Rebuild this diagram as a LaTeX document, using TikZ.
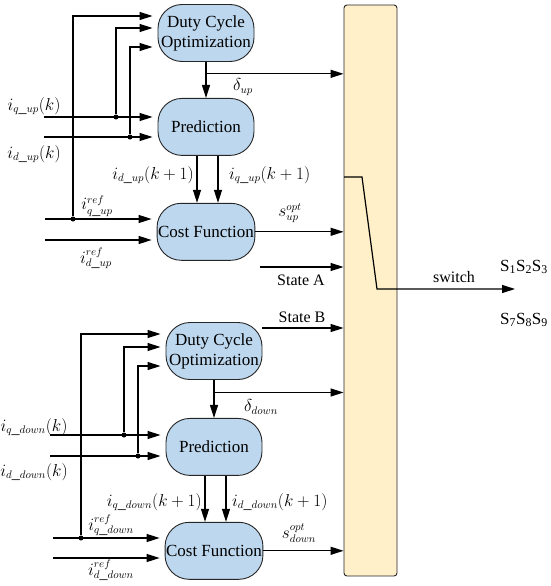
\documentclass[tikz,border=0pt]{standalone}
\usepackage{fontspec}
\setmainfont{Liberation Serif}
\usepackage{tikz}
\usetikzlibrary{arrows.meta,positioning,calc}
\definecolor{blkfill}{HTML}{BDD7EE}
\definecolor{barfill}{HTML}{FFF0CA}
\definecolor{edge}{HTML}{262626}

\begin{document}
\begin{tikzpicture}[x=1pt,y=-1pt,
  font=\fontsize{16}{19}\selectfont,
  blk/.style={draw=edge,fill=blkfill,rounded corners=24pt,minimum width=96pt,
              minimum height=57pt,inner sep=1pt,align=center,line width=0.9pt,
              font=\fontsize{17}{20}\selectfont},
  bar/.style={draw=edge,fill=barfill,rounded corners=3pt,minimum width=53pt,
              minimum height=571pt,line width=0.9pt},
  arr/.style={-{Triangle[length=13pt,width=8pt]},line width=1.2pt},
  inp/.style={arr,shorten >=5pt},
  dot/.style={circle,fill,inner sep=0pt,minimum size=5pt},
  lbl/.style={inner sep=1pt}
]
\useasboundingbox (0,0) rectangle (550,586);
\node[bar] (sel) at (370.5,290.5) {};

\node[blk] (dco1) at (206,33) {Duty Cycle\\Optimization};
\node[blk,below=36pt of dco1] (pr1) {Prediction};
\node[blk,below=47pt of pr1] (cf1) {Cost Function};

\node[blk] (dco2) at (214,351) {Duty Cycle\\Optimization};
\node[blk,below=38pt of dco2] (pr2) {Prediction};
\node[blk,below=46pt of pr2] (cf2) {Cost Function};

\coordinate (iq1) at (44,117);
\coordinate (id1) at (44,137);
\coordinate (rq1) at (45,219);
\coordinate (rd1) at (45,240);
\node[dot] (j1) at (116,117) {};
\node[dot] (j2) at (130,137) {};
\node[dot] (j3) at (73,219) {};
\draw[inp] (iq1) -- (pr1.west |- iq1);
\draw[inp] (id1) -- (pr1.west |- id1);
\draw[inp] (rq1) -- (cf1.west |- rq1);
\draw[inp] (rd1) -- (cf1.west |- rd1);
\draw[inp] (j3) |- ([yshift=17pt]dco1.west);
\draw[inp] (j1) |- ([yshift=5pt]dco1.west);
\draw[inp] (j2) |- ([yshift=-14pt]dco1.west);

\node[lbl] (lq1) at (34,106) {$i_{q\_up}(k)$};
\node[lbl] (ld1) at (34,154) {$i_{d\_up}(k)$};
\node[lbl] (lrq1) at (97,206) {$i^{ref}_{q\_up}$};
\node[lbl] (lrd1) at (96,258) {$i^{ref}_{d\_up}$};

\coordinate (b1) at ($(dco1.south)!0.33!(pr1.north)$);
\draw[arr] (dco1.south) -- (pr1.north);
\draw[arr] (b1) -- (sel.west |- b1);
\node[lbl] (d1) at (243,87) {$\delta_{up}$};

\draw[arr] ([xshift=-9pt]pr1.south) -- ([xshift=-9pt]cf1.north);
\draw[arr] ([xshift=12pt]pr1.south) -- ([xshift=12pt]cf1.north);
\node[lbl,anchor=east] (lk1) at (195,175) {$i_{d\_up}(k+1)$};
\node[lbl,anchor=west] (lk2) at (228,175) {$i_{q\_up}(k+1)$};

\draw[arr] (cf1.east) -- (sel.west |- cf1.east);
\node[lbl] (so1) at (290,213) {$s^{opt}_{up}$};

\coordinate (sa) at (260,267);
\draw[arr] (sa) -- (sel.west |- sa);
\node[lbl] (la) at (301,280) {State A};

\coordinate (sb) at (262,328);
\draw[arr] (sb) -- (sel.west |- sb);
\node[lbl] (lb) at (302,317) {State B};

\coordinate (sw0) at (344,177);
\coordinate (sw1) at (362,177);
\coordinate (sw2) at (377,289);
\coordinate (out) at (515,289);
\draw[arr] (sw0) -- (sw1) -- (sw2) -- (out);
\node[lbl] (lsw) at (454,277) {switch};
\node[lbl,font=\fontsize{17}{19}\selectfont] (s123) at (524,267)
  {S\textsubscript{1}S\textsubscript{2}S\textsubscript{3}};
\node[lbl,font=\fontsize{17}{19}\selectfont] (s789) at (524,320)
  {S\textsubscript{7}S\textsubscript{8}S\textsubscript{9}};

\coordinate (iq2) at (50,435);
\coordinate (id2) at (50,456);
\coordinate (rq2) at (53,538);
\coordinate (rd2) at (53,558);
\node[dot] (j4) at (124,435) {};
\node[dot] (j5) at (138,456) {};
\node[dot] (j6) at (81,538) {};
\draw[inp] (iq2) -- (pr2.west |- iq2);
\draw[inp] (id2) -- (pr2.west |- id2);
\draw[inp] (rq2) -- (cf2.west |- rq2);
\draw[inp] (rd2) -- (cf2.west |- rd2);
\draw[inp] (j6) |- ([yshift=17pt]dco2.west);
\draw[inp] (j4) |- ([yshift=4pt]dco2.west);
\draw[inp] (j5) |- ([yshift=-15pt]dco2.west);

\node[lbl] (lq2) at (34,427) {$i_{q\_down}(k)$};
\node[lbl] (ld2) at (34,472) {$i_{d\_down}(k)$};
\node[lbl] (lrq2) at (111,525) {$i^{ref}_{q\_down}$};
\node[lbl] (lrd2) at (111,570) {$i^{ref}_{d\_down}$};

\coordinate (b2) at ($(dco2.south)!0.33!(pr2.north)$);
\draw[arr] (dco2.south) -- (pr2.north);
\draw[arr] (b2) -- (sel.west |- b2);
\node[lbl] (d2) at (261,407) {$\delta_{down}$};

\draw[arr] ([xshift=-9pt]pr2.south) -- ([xshift=-9pt]cf2.north);
\draw[arr] ([xshift=12pt]pr2.south) -- ([xshift=12pt]cf2.north);
\node[lbl,anchor=east] (lk3) at (203,502) {$i_{q\_down}(k+1)$};
\node[lbl,anchor=west] (lk4) at (231,502) {$i_{d\_down}(k+1)$};

\draw[arr] (cf2.east) -- (sel.west |- cf2.east);
\node[lbl] (so2) at (299,533) {$s^{opt}_{down}$};
\end{tikzpicture}
\end{document}
